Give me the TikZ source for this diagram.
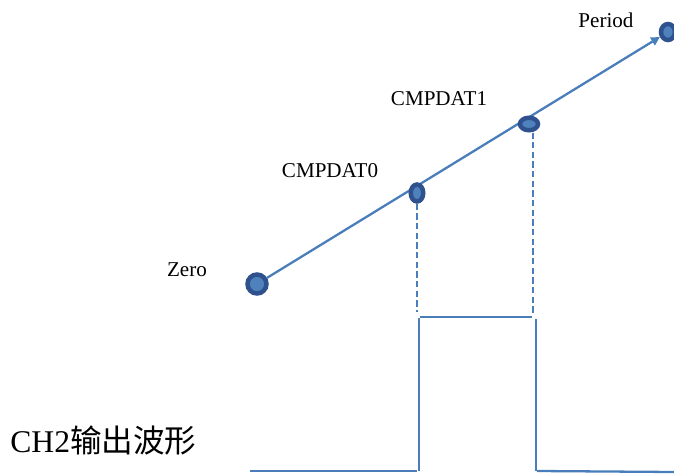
\documentclass[tikz,border=0pt]{standalone}
\usepackage{fontspec}
\setmainfont{Liberation Serif}
\newfontfamily\cjkfont{Noto Sans CJK SC}
\usetikzlibrary{arrows.meta,shapes.geometric,backgrounds}
\definecolor{waveblue}{RGB}{74,126,187}
\definecolor{dotdark}{RGB}{47,82,143}
\definecolor{dotlight}{RGB}{79,129,189}

\begin{document}
\begin{tikzpicture}[x=0.02cm,y=-0.02cm,
  pdot/.style={ellipse,draw=dotdark,fill=dotlight,line width=0.09cm,inner sep=0pt},
  lbl/.style={font=\fontsize{12}{14}\selectfont,inner sep=0pt,anchor=base},
  wave/.style={waveblue,line width=1.3pt},
  guide/.style={waveblue,line width=1.1pt,dash pattern=on 3.5pt off 2pt}]
\useasboundingbox (0,0) rectangle (674,474);
% points on the counter ramp
\node[pdot,minimum width=0.38cm,minimum height=0.38cm] (zero) at (257,284) {};
\node[pdot,minimum width=0.25cm,minimum height=0.34cm] (cmp0) at (417,193) {};
\node[pdot,minimum width=0.36cm,minimum height=0.25cm] (cmp1) at (529,124) {};
\node[pdot,minimum width=0.28cm,minimum height=0.32cm] (period) at (668,32) {};
\begin{scope}[on background layer]
\draw[wave,-{Triangle[length=5pt,width=5pt]}] (zero) -- (period);
\end{scope}
\node[lbl] (lblzero) at (187,276) {Zero};
\node[lbl] (lblcmp0) at (330,177) {CMPDAT0};
\node[lbl] (lblcmp1) at (439,105) {CMPDAT1};
\node[lbl] (lblperiod) at (606,27) {Period};
% guides down to the output edges
\coordinate (rise) at (417,312);
\coordinate (fall) at (533,314);
\draw[guide] (cmp0) -- (rise);
\draw[guide] (cmp1.south -| fall) -- (fall);
% output waveform
\draw[wave] (250,471) -- (417,471);
\draw[wave] (419,471) -- (419,318);
\draw[wave] (420,317) -- (532,317);
\draw[wave] (536,319) -- (536,471);
\draw[wave] (537,471) -- (674,472);
\node[inner sep=0pt,anchor=base west,font=\fontsize{18}{20}\selectfont] (title) at (10,452) {CH2{\cjkfont 输出波形}};
\end{tikzpicture}
\end{document}
